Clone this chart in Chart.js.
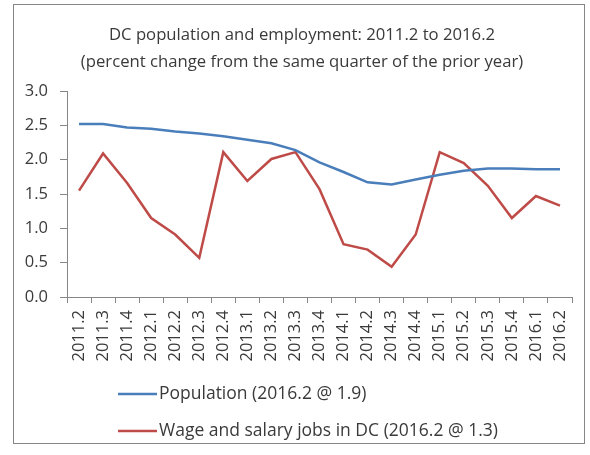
<!DOCTYPE html>
<html>
<head>
<meta charset="utf-8">
<script src="https://cdn.jsdelivr.net/npm/chart.js@4"></script>
<style>
  html, body { margin: 0; padding: 0; background: #fff; }
  #marco { position: absolute; left: 13px; top: 4px; width: 570px; height: 438px; border: 1px solid #868686; }
  #lienzo { position: absolute; left: 0; top: 0; }
</style>
</head>
<body>
<div id="marco"></div>
<canvas id="lienzo" width="590" height="455"></canvas>
<script>
// Trimestres del eje X
const trimestres = ['2011.2', '2011.3', '2011.4', '2012.1', '2012.2', '2012.3', '2012.4',
    '2013.1', '2013.2', '2013.3', '2013.4', '2014.1', '2014.2', '2014.3', '2014.4',
    '2015.1', '2015.2', '2015.3', '2015.4', '2016.1', '2016.2'];

// Poblacion (% cambio interanual)
const poblacion = [2.52, 2.52, 2.47, 2.45, 2.41, 2.38, 2.34, 2.29, 2.24, 2.14, 1.96,
    1.82, 1.67, 1.64, 1.71, 1.78, 1.84, 1.87, 1.87, 1.86, 1.86];

// Empleos asalariados en DC (% cambio interanual)
const empleos = [1.55, 2.09, 1.66, 1.15, 0.91, 0.57, 2.11, 1.69, 2.01, 2.11, 1.57,
    0.77, 0.69, 0.44, 0.91, 2.11, 1.95, 1.62, 1.15, 1.47, 1.33];

const etiquetas = ['Population (2016.2 @ 1.9)', 'Wage and salary jobs in DC (2016.2 @ 1.3)'];
const titulo = ['DC population and employment: 2011.2 to 2016.2',
    '(percent change from the same quarter of the prior year)'];

const fuente = '"Open Sans", "Noto Sans", sans-serif';
const colorTexto = '#3a3a3a';

// Titulo y leyenda propios: la leyenda va una serie por fila, alineada a la izquierda
const textosPropios = {
    id: 'textosPropios',
    afterDraw(chart) {
        const c = chart.ctx;
        c.save();
        c.fillStyle = colorTexto;
        c.textBaseline = 'middle';

        c.font = '16.7px ' + fuente;
        c.textAlign = 'center';
        titulo.forEach((linea, i) => c.fillText(linea, 302, 35 + i * 27));

        c.font = '17.5px ' + fuente;
        c.textAlign = 'left';
        chart.data.datasets.forEach((ds, i) => {
            const y = 394 + i * 37;
            c.strokeStyle = ds.borderColor;
            c.lineWidth = 2.5;
            c.beginPath();
            c.moveTo(118, y);
            c.lineTo(157, y);
            c.stroke();
            c.fillText(ds.label, 159, y);
        });
        c.restore();
    }
};

new Chart(document.getElementById('lienzo'), {
    type: 'line',
    data: {
        labels: trimestres,
        datasets: [{
            label: etiquetas[0],
            data: poblacion,
            borderColor: '#4A7EBB',
            borderWidth: 2.5,
            pointRadius: 0,
            tension: 0
        }, {
            label: etiquetas[1],
            data: empleos,
            borderColor: '#BE4B48',
            borderWidth: 2.5,
            pointRadius: 0,
            tension: 0
        }]
    },
    options: {
        responsive: false,
        animation: false,
        layout: {
            padding: { left: 14, right: 18, top: 91, bottom: 88 }
        },
        scales: {
            x: {
                offset: true,
                afterFit: s => { s.height = 70; },
                grid: { offset: true, drawOnChartArea: false, tickLength: 6, color: '#868686' },
                border: { color: '#868686' },
                ticks: {
                    minRotation: 90,
                    maxRotation: 90,
                    autoSkip: false,
                    padding: 7,
                    color: colorTexto,
                    font: { family: fuente, size: 16.5 }
                }
            },
            y: {
                min: 0,
                max: 3,
                afterFit: s => { s.width = 53; },
                grid: { drawOnChartArea: false, tickLength: 7, color: '#868686' },
                border: { color: '#868686' },
                ticks: {
                    stepSize: 0.5,
                    padding: 12,
                    color: colorTexto,
                    font: { family: fuente, size: 16.5 },
                    callback: v => v.toFixed(1)
                }
            }
        },
        plugins: {
            legend: { display: false },
            tooltip: { enabled: false },
            title: { display: false }
        }
    },
    plugins: [textosPropios]
});
</script>
</body>
</html>
